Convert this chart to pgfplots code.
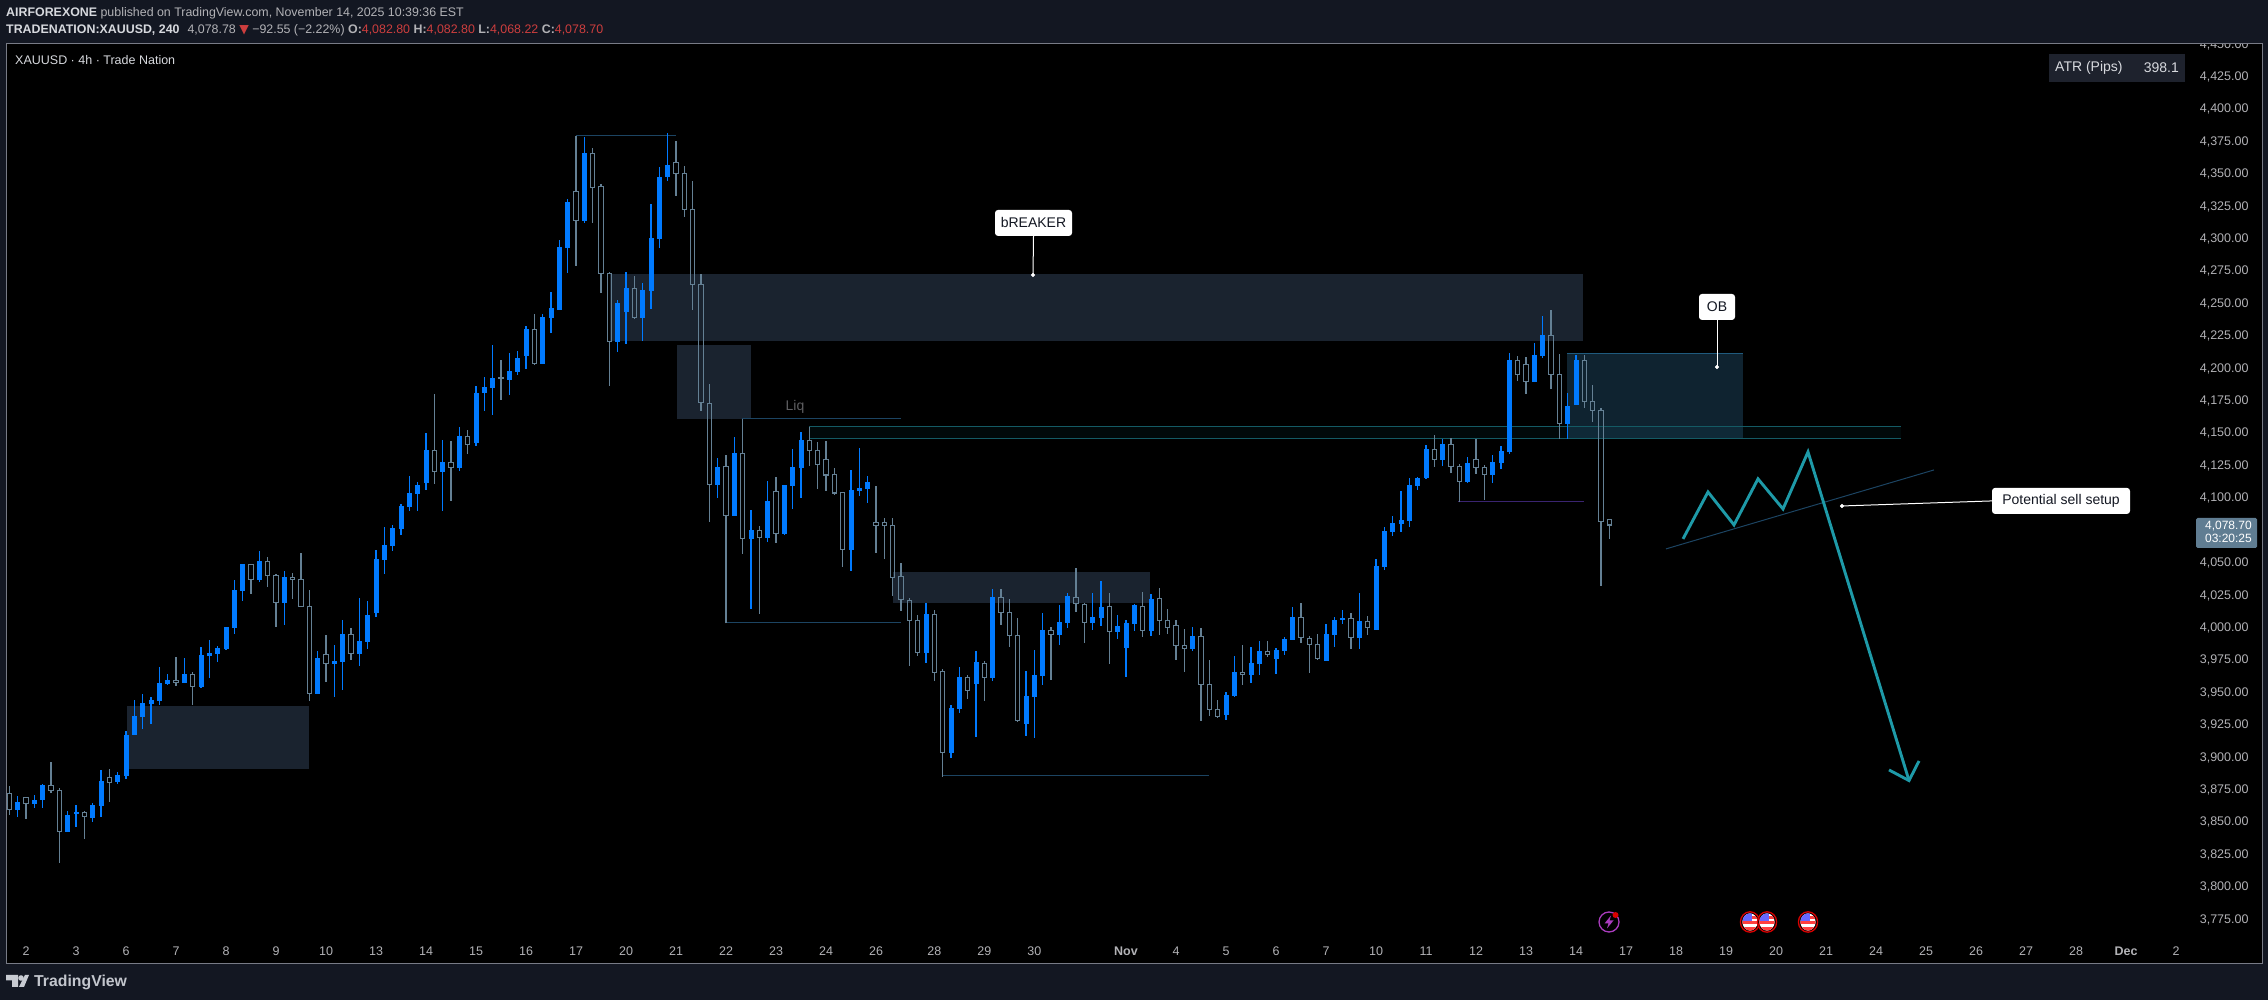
\documentclass[border=0pt]{standalone}
\usepackage{pgfplots}
\usepackage{pgfplotstable}
\usepackage{fontspec}
\setmainfont{Liberation Sans}
\newfontfamily\symfont{DejaVu Sans}
\pgfplotsset{compat=1.18}
\definecolor{bgc}{RGB}{19,23,34}
\definecolor{panebd}{RGB}{120,123,134}
\definecolor{cblue}{RGB}{0,122,255}
\definecolor{cgrey}{RGB}{100,128,148}
\definecolor{zonec}{RGB}{130,175,235}
\definecolor{obc}{RGB}{75,175,240}
\definecolor{bandc}{RGB}{20,120,140}
\definecolor{bandl}{RGB}{20,90,100}
\definecolor{lvl}{RGB}{28,68,98}
\definecolor{teal2}{RGB}{30,154,168}
\definecolor{purp}{RGB}{58,36,112}
\definecolor{txtg}{RGB}{178,178,182}
\definecolor{redv}{RGB}{205,62,62}
\definecolor{evpurp}{RGB}{170,60,190}
\pgfplotstableread{
i low bot top high
1 3853.6 3859.0 3865.1 3869.8
3 3860.5 3863.6 3866.7 3870.5
4 3860.5 3866.7 3878.2 3879.0
7 3842.0 3842.0 3855.1 3858.2
8 3845.9 3855.9 3857.4 3862.8
10 3849.7 3852.8 3862.8 3864.4
11 3853.6 3862.0 3881.3 3889.8
13 3879.0 3880.6 3886.0 3888.3
14 3882.9 3885.2 3916.8 3919.9
15 3916.8 3916.8 3931.5 3943.8
16 3921.5 3930.7 3941.5 3948.5
17 3925.3 3940.8 3943.8 3946.2
18 3940.0 3943.1 3957.0 3969.3
19 3955.4 3956.2 3959.3 3963.9
21 3957.0 3957.0 3963.9 3976.2
23 3953.1 3953.9 3978.5 3984.7
24 3960.8 3977.8 3980.1 3990.1
25 3973.1 3979.3 3983.9 3985.5
26 3982.4 3983.2 4000.1 4000.1
27 3994.7 3999.4 4028.7 4036.4
28 4020.2 4027.9 4048.7 4048.7
30 4034.8 4036.4 4051.0 4058.8
33 4001.7 4018.6 4038.7 4043.3
37 3948.5 3948.5 3976.2 3981.6
39 3946.2 3971.6 3973.9 3986.2
40 3951.5 3973.1 3994.7 4005.5
42 3970.0 3979.3 3989.3 4022.5
43 3983.2 3988.5 4009.4 4020.2
44 4007.8 4010.9 4052.5 4059.5
45 4041.0 4051.8 4063.4 4077.2
46 4058.8 4062.6 4076.5 4078.8
47 4071.0 4075.7 4093.4 4095.0
48 4089.6 4092.6 4103.4 4116.6
49 4089.6 4102.7 4109.6 4111.9
50 4105.8 4111.2 4136.6 4149.7
52 4089.6 4119.6 4127.3 4144.3
54 4120.4 4122.7 4147.4 4154.3
56 4139.7 4142.0 4180.6 4186.0
57 4166.7 4180.6 4185.2 4192.9
58 4163.6 4184.4 4192.1 4217.6
60 4179.0 4190.6 4197.5 4211.4
61 4194.5 4196.8 4207.6 4213.0
62 4199.1 4209.1 4229.9 4232.2
64 4202.9 4202.9 4239.2 4241.5
65 4226.8 4238.4 4246.1 4258.5
66 4244.6 4244.6 4293.2 4298.6
67 4273.2 4292.4 4327.9 4330.2
69 4311.7 4313.2 4365.7 4378.3
73 4212.2 4219.9 4250.0 4252.3
74 4218.4 4243.1 4261.6 4273.9
76 4220.7 4238.4 4260.0 4265.4
77 4245.4 4259.3 4300.1 4326.4
78 4292.4 4299.4 4347.2 4354.9
79 4344.1 4347.2 4356.4 4381.1
85 4099.6 4109.6 4123.5 4130.4
87 4085.7 4085.7 4134.3 4146.6
89 4014.0 4068.0 4074.9 4090.3
91 4065.6 4068.7 4097.3 4112.7
93 4071.0 4071.8 4109.6 4109.6
94 4091.1 4108.8 4123.5 4137.4
95 4099.6 4122.7 4144.3 4150.5
101 4043.3 4059.5 4105.8 4121.2
102 4101.1 4105.0 4107.3 4138.2
103 4095.7 4106.5 4111.9 4116.6
110 3972.3 3980.0 4010.1 4018.6
113 3899.0 3902.9 3937.6 3939.9
114 3933.8 3936.8 3961.5 3969.2
116 3915.2 3956.1 3973.1 3981.6
118 3958.4 3960.8 4023.2 4029.4
122 3916.0 3925.3 3946.9 3966.1
123 3914.5 3946.1 3963.1 3982.3
124 3955.4 3962.3 3997.8 4010.9
126 3986.2 3993.9 4004.0 4017.1
127 3999.3 4003.2 4024.0 4026.3
130 3997.8 4003.2 4007.8 4026.3
131 4000.9 4007.1 4015.5 4035.6
133 3990.9 3996.3 4000.9 4009.4
134 3961.6 3983.9 4003.2 4005.5
135 3997.0 4002.4 4017.1 4017.9
137 3993.2 3997.0 4021.7 4025.3
142 3981.6 3983.1 3993.2 4000.1
146 3928.4 3932.2 3947.7 3950.0
147 3946.1 3946.9 3965.4 3977.8
149 3956.9 3963.1 3972.4 3984.7
150 3963.1 3971.6 3981.6 3989.3
152 3963.9 3975.4 3982.4 3983.9
153 3978.5 3981.6 3990.9 3992.4
154 3990.1 3990.1 4007.8 4015.5
158 3973.9 3973.9 3994.7 4002.4
159 3984.7 3993.9 4005.5 4007.8
160 4002.4 4005.5 4007.1 4013.2
162 3983.1 3991.6 4004.7 4026.3
164 3997.8 3997.8 4047.2 4052.6
165 4044.1 4046.4 4074.2 4077.2
166 4070.3 4073.4 4080.3 4085.7
167 4073.4 4079.6 4082.6 4105.0
168 4077.2 4081.8 4109.6 4114.7
169 4105.7 4108.8 4115.0 4115.8
170 4114.2 4115.0 4137.3 4140.4
172 4124.2 4128.9 4141.2 4145.1
175 4111.1 4111.9 4126.6 4131.2
178 4111.1 4117.3 4127.3 4132.7
179 4121.9 4126.6 4135.8 4139.7
180 4133.5 4135.0 4206.0 4211.4
183 4189.0 4189.0 4209.9 4219.1
184 4207.5 4209.1 4225.3 4240.0
187 4145.1 4156.6 4170.5 4180.5
188 4171.3 4171.3 4206.0 4209.9
}\tblue
\pgfplotstableread{
i low bot top high
0 3855.1 3859.2 3871.8 3877.5
2 3852.0 3863.9 3868.7 3868.7
5 3872.1 3873.6 3878.0 3896.0
6 3818.1 3842.2 3874.1 3875.7
9 3836.6 3853.8 3857.2 3858.2
12 3865.1 3880.0 3884.2 3890.6
20 3954.6 3957.0 3958.5 3977.0
22 3940.0 3954.1 3963.6 3965.4
29 4025.6 4036.6 4048.5 4048.7
31 4031.0 4039.7 4050.8 4054.1
32 4000.1 4018.9 4040.0 4041.0
34 4021.7 4036.6 4038.4 4041.8
35 4015.8 4015.8 4036.9 4057.2
36 3943.1 3948.7 4016.1 4028.7
38 3957.7 3971.8 3979.1 3994.0
41 3974.7 3979.5 3994.5 3999.4
51 4110.4 4119.9 4136.3 4179.8
53 4097.3 4123.0 4127.1 4143.5
55 4133.5 4141.0 4147.1 4152.0
59 4175.2 4191.4 4192.1 4206.0
63 4202.9 4203.2 4229.7 4241.5
68 4278.5 4313.5 4336.1 4378.8
70 4311.7 4339.0 4365.4 4369.6
71 4257.7 4272.6 4340.0 4341.8
72 4186.0 4220.2 4272.9 4273.9
75 4238.4 4238.7 4261.3 4270.8
80 4332.5 4349.8 4358.5 4375.0
81 4316.4 4322.0 4350.0 4355.7
82 4244.6 4264.2 4322.3 4344.1
83 4166.7 4173.1 4264.4 4272.4
84 4081.1 4109.9 4172.6 4187.5
86 4002.9 4086.0 4124.0 4132.8
88 4056.4 4068.2 4134.0 4160.3
90 4010.1 4069.0 4074.6 4078.0
92 4064.9 4072.1 4104.7 4115.8
96 4124.3 4136.1 4144.1 4154.3
97 4106.5 4125.3 4136.4 4142.8
98 4105.0 4117.3 4129.4 4143.6
99 4101.9 4103.4 4117.8 4122.7
100 4046.4 4059.7 4104.0 4104.2
104 4057.2 4078.2 4080.8 4108.8
105 4052.5 4078.2 4080.8 4084.2
106 4024.0 4038.1 4078.5 4084.2
107 4012.4 4021.2 4039.2 4049.5
108 3970.0 4005.0 4020.7 4022.5
109 3977.7 3980.3 4005.2 4009.3
111 3958.4 3964.9 4009.9 4013.2
112 3884.6 3903.2 3965.9 3967.7
115 3944.6 3951.0 3961.3 3963.1
117 3943.0 3961.0 3972.1 3973.9
119 4001.6 4011.1 4023.0 4029.4
120 3984.7 3993.4 4011.4 4021.7
121 3926.8 3927.8 3993.7 4007.0
125 3959.2 3994.2 3997.5 4000.1
128 4011.7 4018.4 4023.0 4045.6
129 3987.8 4003.5 4017.6 4018.6
132 3971.6 3996.5 4016.1 4026.3
136 3992.4 3997.3 4016.1 4027.1
138 3993.9 4005.0 4022.2 4030.2
139 3994.7 3999.6 4005.3 4014.0
140 3974.7 3985.7 4001.4 4005.5
141 3965.4 3983.4 3986.0 3998.6
143 3927.6 3955.6 3992.9 3999.3
144 3931.5 3936.4 3955.9 3974.7
145 3929.9 3931.0 3936.6 3943.8
148 3955.4 3963.4 3965.2 3986.2
151 3977.0 3978.8 3981.1 3989.3
155 3987.8 3991.9 4007.6 4018.6
156 3964.6 3986.5 3991.4 3993.2
157 3975.4 3975.7 3986.7 3994.7
161 3983.1 3991.9 4006.8 4010.9
163 3993.9 3999.6 4004.5 4008.6
171 4123.5 4129.1 4137.1 4148.1
173 4118.8 4124.0 4140.9 4145.8
174 4096.2 4112.2 4123.7 4125.8
176 4118.1 4123.0 4129.4 4145.1
177 4098.0 4117.6 4123.2 4125.0
181 4189.8 4194.7 4205.7 4209.1
182 4179.8 4189.5 4202.7 4208.3
185 4183.6 4194.7 4225.0 4244.6
186 4145.1 4156.9 4195.0 4210.6
189 4169.0 4173.9 4205.7 4209.9
190 4158.2 4166.9 4174.1 4186.7
191 4031.7 4081.3 4167.2 4169.0
192 4068.2 4078.7 4082.8 4082.8
}\tgrey
% candle marks: anchored at the lower body edge; 1 price unit = 1.2965pt
\pgfdeclareplotmark{cblue}{%
  \pgfsetlinewidth{1.15pt}\pgfsetstrokecolor{cblue}\pgfsetfillcolor{cblue}%
  \pgfpathmoveto{\pgfpoint{0pt}{(\cl-\cb)*1.2965pt}}%
  \pgfpathlineto{\pgfpoint{0pt}{(\ch-\cb)*1.2965pt}}\pgfusepathqstroke
  \pgfpathrectangle{\pgfpoint{-2.5pt}{0pt}}{\pgfpoint{5pt}{max(\ct-\cb,1.5)*1.2965pt}}\pgfusepathqfill}
\pgfdeclareplotmark{cgrey}{%
  \pgfsetlinewidth{1.1pt}\pgfsetstrokecolor{cgrey}%
  \pgfpathmoveto{\pgfpoint{0pt}{(\cl-\cb)*1.2965pt}}%
  \pgfpathlineto{\pgfpoint{0pt}{0pt}}%
  \pgfpathmoveto{\pgfpoint{0pt}{(\ct-\cb)*1.2965pt}}%
  \pgfpathlineto{\pgfpoint{0pt}{(\ch-\cb)*1.2965pt}}\pgfusepathqstroke
  \pgfpathrectangle{\pgfpoint{-2.1pt}{0pt}}{\pgfpoint{4.2pt}{(\ct-\cb)*1.2965pt}}\pgfusepathqstroke}
\newcommand{\candles}[2]{%
  \addplot[scatter, only marks, mark=#1, scatter/use mapped color={draw=#1,fill=#1},
    visualization depends on={\thisrow{low} \as \cl},
    visualization depends on={\thisrow{bot} \as \cb},
    visualization depends on={\thisrow{top} \as \ct},
    visualization depends on={\thisrow{high} \as \ch}]
    table[x=i,y=bot] {#2};}
\newcommand{\flag}[1]{%
  \begin{scope}[shift={(#1,922)}]
    \begin{scope}
      \clip (0,0) ellipse (7.6 and 8.6);
      \fill[white] (-9,-10) rectangle (9,10);
      \fill[red!75!white] (-9,-0.5) rectangle (9,2.5);
      \fill[red!75!white] (-9,5) rectangle (9,10);
      \fill[red!75!white] (2,-5.5) rectangle (9,-2.5);
      \fill[blue!60!white] (-9,-10) rectangle (2,-0.5);
    \end{scope}
    \draw[red!85!black,line width=1.3pt] (0,0) ellipse (9.6 and 10.2);
  \end{scope}}
\newcommand{\fs}[1]{\fontsize{#1}{#1}\selectfont}
\begin{document}
\begin{tikzpicture}
\path[use as bounding box,fill=bgc] (0pt,0pt) rectangle (2268pt,1000pt);
\begin{axis}[
  at={(7pt,37pt)},anchor=south west,
  x=8.33333pt,y=1.2965pt,
  xmin=-0.28,xmax=270.32,ymin=3740.9,ymax=4450.5,
  clip=false,
  axis background/.style={fill=black},
  axis line style={draw=none},
  major tick length=0pt,
  tick style={draw=none},
  ytick={3775,3800,...,4450},
  yticklabel pos=right,
  scaled y ticks=false,
  yticklabel style={anchor=east,xshift=-10pt,yshift=-0.8pt,font=\fs{12.5},text=txtg,
    /pgf/number format/assume math mode=true,/pgf/number format/fixed,/pgf/number format/fixed zerofill,
    /pgf/number format/precision=2,/pgf/number format/1000 sep={,}},
  xtick={2,8,14,20,26,32,38,44,50,56,62,68,74,80,86,92,98,104,111,117,123,134,140,146,152,158,164,170,176,182,188,194,200,206,212,218,224,230,236,242,248,254,260},
  xticklabels={2,3,6,7,8,9,10,13,14,15,16,17,20,21,22,23,24,26,28,29,30,\textbf{Nov},4,5,6,7,10,11,12,13,14,17,18,19,20,21,24,25,26,27,28,\textbf{Dec},2},
  xticklabel style={anchor=base,yshift=7pt,font=\fs{12.5},text=txtg},
]
\candles{cblue}{\tblue}
\candles{cgrey}{\tgrey}
% zones
\addplot[draw=none,fill=zonec,fill opacity=.2] coordinates {(14.12,3890.6)(35.96,3890.6)(35.96,3939.2)(14.12,3939.2)} -- cycle;
\addplot[draw=none,fill=zonec,fill opacity=.2] coordinates {(72.08,4220.7)(188.84,4220.7)(188.84,4272.4)(72.08,4272.4)} -- cycle;
\addplot[draw=none,fill=zonec,fill opacity=.2] coordinates {(80.12,4160.5)(89.0,4160.5)(89.0,4217.6)(80.12,4217.6)} -- cycle;
\addplot[draw=none,fill=zonec,fill opacity=.2] coordinates {(106.04,4018.6)(136.88,4018.6)(136.88,4042.5)(106.04,4042.5)} -- cycle;
\addplot[draw=none,fill=obc,fill opacity=.2] coordinates {(186.92,4145.1)(208.04,4145.1)(208.04,4210.7)(186.92,4210.7)} -- cycle;
\addplot[draw=none,fill=bandc,fill opacity=.08] coordinates {(95.96,4145.1)(227.0,4145.1)(227.0,4154.4)(95.96,4154.4)} -- cycle;
\addplot[bandl,line width=0.9pt] coordinates {(95.96,4145.1)(227.0,4145.1)};
\addplot[bandl,line width=0.9pt] coordinates {(95.96,4154.4)(227.0,4154.4)};
\addplot[color={rgb,255:red,31;green,90;blue,125},line width=1pt] coordinates {(186.92,4210.7)(208.04,4210.7)};
% level lines
\addplot[lvl,line width=1pt] coordinates {(68.0,4378.8)(80.0,4378.8)};
\addplot[lvl,line width=1pt] coordinates {(87.92,4160.5)(107.0,4160.5)};
\addplot[lvl,line width=1pt] coordinates {(85.9,4003.2)(107.0,4003.2)};
\addplot[lvl,line width=1pt] coordinates {(111.92,3885.2)(143.96,3885.2)};
\addplot[purp,line width=1pt] coordinates {(173.84,4096.5)(188.96,4096.5)};
\addplot[lvl,line width=1pt] coordinates {(198.8,4060.3)(230.96,4121.2)};
% projected path
\addplot[teal2,line width=2.9pt,line join=miter] coordinates {(200.84,4068.0)(203.84,4104.2)(206.96,4078.8)(209.84,4114.3)(212.84,4091.1)(215.84,4135.1)(227.96,3881.6)};
\addplot[teal2,line width=2.9pt,line join=miter] coordinates {(225.56,3889.8)(227.96,3881.6)(229.16,3896.7)};
% callouts
\addplot[white,line width=1pt] coordinates {(122.9,4301.7)(122.84,4271.6)};
\addplot[white,only marks,mark=*,mark size=1.8pt] coordinates {(122.84,4271.6)};
\addplot[white,line width=1pt] coordinates {(204.92,4236.9)(204.92,4200.6)};
\addplot[white,only marks,mark=*,mark size=1.8pt] coordinates {(204.92,4200.6)};
\addplot[white,line width=1pt] coordinates {(237.92,4097.3)(219.92,4093.4)};
\addplot[white,only marks,mark=*,mark size=1.8pt] coordinates {(219.92,4093.4)};
\node[fill=white,rounded corners=3pt,minimum width=77pt,minimum height=26pt,inner sep=0pt,text=bgc,font=\fs{14}] at (axis cs:122.9,4311.7) {bREAKER};
\node[fill=white,rounded corners=3pt,minimum width=36pt,minimum height=26pt,inner sep=0pt,text=bgc,font=\fs{14}] at (axis cs:204.92,4246.9) {OB};
\node[fill=white,rounded corners=3pt,minimum width=138pt,minimum height=26pt,inner sep=0pt,text=bgc,font=\fs{14}] at (axis cs:246.2,4097.3) {Potential sell setup};
\node[text={rgb,255:red,95;green,95;blue,98},font=\fs{14},inner sep=0pt] at (axis cs:94.28,4169.5) {Liq};
\end{axis}
\begin{scope}[x=1pt,y=-1pt,shift={(0pt,1000pt)}]
  \fill[bgc] (0,0) rectangle (2268,43);
  \fill[bgc] (0,963) rectangle (2268,1000);
  \draw[panebd,line width=1pt] (6.5,43.5) rectangle (2262.5,963.5);
  % last price
  \fill[color={rgb,255:red,96;green,125;blue,146},rounded corners=1.5pt] (2196,518) rectangle (2257,548);
  \node[anchor=east,inner sep=0pt,text=white,font=\fs{12},align=right] at (2252,532) {4,078.70\\[1.5pt]03:20:25};
  % indicator
  \fill[color={rgb,255:red,30;green,34;blue,45}] (2049,54) rectangle (2185,82);
  \node[anchor=west,inner sep=0pt,text={rgb,255:red,215;green,217;blue,222},font=\fs{14}] at (2055,68) {ATR (Pips)};
  \node[anchor=east,inner sep=0pt,text={rgb,255:red,215;green,217;blue,222},font=\fs{14}] at (2179,68) {398.1};
  \node[anchor=west,inner sep=0pt,text={rgb,255:red,215;green,217;blue,222},font=\fs{12.5}] at (15,60) {XAUUSD · 4h · Trade Nation};
  % header
  \node[anchor=west,inner sep=0pt,font=\fs{12.4},text=txtg] at (6,13) {\textcolor[RGB]{215,217,222}{\textbf{AIRFOREXONE}} published on TradingView.com, November 14, 2025 10:39:36 EST};
  \node[anchor=west,inner sep=0pt,font=\fs{12.4},text=txtg] at (6,30) {\textcolor[RGB]{215,217,222}{\textbf{TRADENATION:XAUUSD, 240}}\hspace{8pt}4,078.78 \textcolor{redv}{{\symfont ▼}} −92.55 (−2.22\%) \textbf{O:}\textcolor{redv}{4,082.80} \textbf{H:}\textcolor{redv}{4,082.80} \textbf{L:}\textcolor{redv}{4,068.22} \textbf{C:}\textcolor{redv}{4,078.70}};
  % event icons
  \draw[evpurp,line width=1.3pt] (1609,922) circle (10);
  \fill[evpurp] (1611,915.5) -- (1604.5,923.5) -- (1608.5,923.5) -- (1607,928.5) -- (1613.5,920.5) -- (1609.5,920.5) -- cycle;
  \fill[red!85!black] (1615.5,915) circle (3);
  \flag{1750}\flag{1767}\flag{1808}
  % logo
  \fill[color={rgb,255:red,200;green,203;blue,210}] (6,975) -- (18,975) -- (18,987) -- (12,987) -- (12,980.5) -- (6,980.5) -- cycle;
  \fill[color={rgb,255:red,200;green,203;blue,210}] (21,978) circle (2.8);
  \fill[color={rgb,255:red,200;green,203;blue,210}] (25,975) -- (29,975) -- (24,987) -- (19,987) -- cycle;
  \node[anchor=west,inner sep=0pt,font=\bfseries\fs{15.8},text={rgb,255:red,195;green,198;blue,205}] at (34,982) {TradingView};
\end{scope}
\end{tikzpicture}
\end{document}
